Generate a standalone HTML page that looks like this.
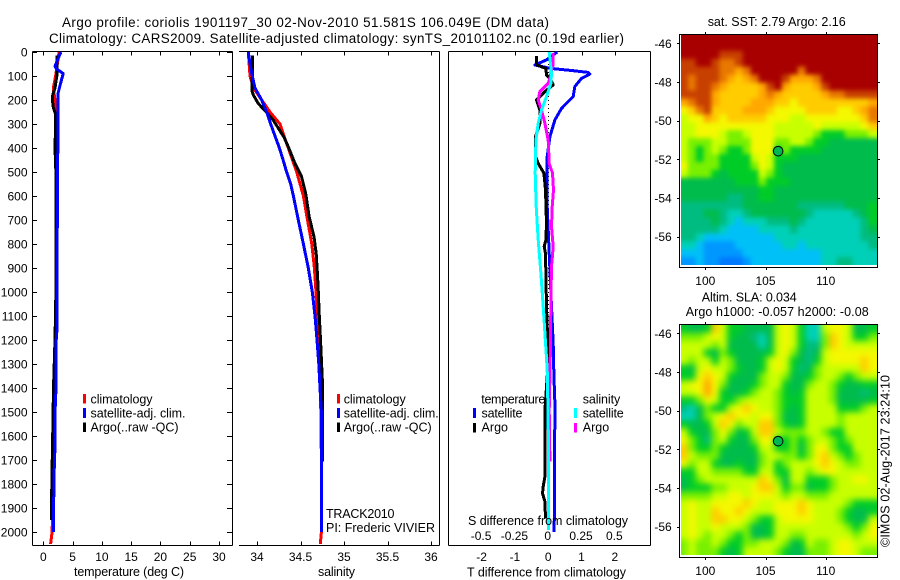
<!DOCTYPE html>
<html lang="en">
<head>
<meta charset="utf-8">
<title>Argo profile</title>
<style>
html,body{margin:0;padding:0;background:#fff;}
svg{display:block;}
text{font-family:"Liberation Sans",Arial,sans-serif;font-size:12px;fill:#000;}
text.w{font-size:12.5px;}
text.h{font-size:13.4px;}
</style>
</head>
<body>
<svg id="figure" xmlns="http://www.w3.org/2000/svg" width="900" height="580" viewBox="0 0 900 580">
<defs>
<filter id="blurSst" x="-10%" y="-10%" width="120%" height="120%" color-interpolation-filters="sRGB"><feGaussianBlur stdDeviation="2.4"/></filter>
<filter id="blurSla" x="-10%" y="-10%" width="120%" height="120%" color-interpolation-filters="sRGB"><feGaussianBlur stdDeviation="3.2"/></filter>
<clipPath id="clipSst"><rect x="681" y="35" width="196" height="230"/></clipPath>
<clipPath id="clipSla"><rect x="681" y="325" width="196" height="230"/></clipPath>
</defs>
<rect x="0" y="0" width="900" height="580" fill="#fff"/>
<g id="marks"></g>

<text class="h" x="62" y="27" textLength="487" lengthAdjust="spacing">Argo profile: coriolis 1901197_30 02-Nov-2010 51.581S 106.049E (DM data)</text>
<text class="h" x="49" y="43" textLength="575" lengthAdjust="spacing">Climatology: CARS2009. Satellite-adjusted climatology: synTS_20101102.nc (0.19d earlier)</text>

<text class="w" x="74" y="576" textLength="110" lengthAdjust="spacing">temperature (deg C)</text>
<text class="w" x="318" y="576" textLength="37" lengthAdjust="spacing">salinity</text>
<text class="w" x="467" y="576.5" textLength="159" lengthAdjust="spacing">T difference from climatology</text>
<text class="w" x="468" y="525" textLength="160" lengthAdjust="spacing">S difference from climatology</text>

<rect x="83" y="394" width="3" height="9.5" fill="#f00"/>
<rect x="83" y="408" width="3" height="10" fill="#00f"/>
<rect x="83" y="422.5" width="3" height="9.5" fill="#000"/>
<text class="w" x="90.5" y="403.3" textLength="62" lengthAdjust="spacing">climatology</text>
<text class="w" x="90.5" y="417.3" textLength="95" lengthAdjust="spacing">satellite-adj. clim.</text>
<text class="w" x="90.5" y="431.3" textLength="88" lengthAdjust="spacing">Argo(..raw -QC)</text>

<rect x="337" y="394" width="3" height="9.5" fill="#f00"/>
<rect x="337" y="408" width="3" height="10" fill="#00f"/>
<rect x="337" y="422.5" width="3" height="9.5" fill="#000"/>
<text class="w" x="343.7" y="403.3" textLength="62" lengthAdjust="spacing">climatology</text>
<text class="w" x="343.7" y="417.3" textLength="95" lengthAdjust="spacing">satellite-adj. clim.</text>
<text class="w" x="343.7" y="431.3" textLength="88" lengthAdjust="spacing">Argo(..raw -QC)</text>
<text class="w" x="326" y="518" textLength="68.5" lengthAdjust="spacing">TRACK2010</text>
<text class="w" x="326" y="532" textLength="109" lengthAdjust="spacing">PI: Frederic VIVIER</text>

<text class="w" x="481.3" y="403.3" textLength="64" lengthAdjust="spacing">temperature</text>
<text class="w" x="481.5" y="417.7" textLength="41" lengthAdjust="spacing">satellite</text>
<text class="w" x="481.5" y="431.7" textLength="26.5" lengthAdjust="spacing">Argo</text>
<text class="w" x="582.7" y="403.3" textLength="37.5" lengthAdjust="spacing">salinity</text>
<text class="w" x="582.7" y="417.7" textLength="41" lengthAdjust="spacing">satellite</text>
<text class="w" x="582.7" y="431.7" textLength="26.5" lengthAdjust="spacing">Argo</text>
<rect x="473" y="408" width="3" height="10" fill="#00f"/>
<rect x="473" y="423" width="3" height="9.5" fill="#000"/>
<rect x="574" y="408" width="3" height="10" fill="#0ff"/>
<rect x="574" y="423" width="3" height="9.5" fill="#f0f"/>

<text class="w" x="707.7" y="26" textLength="138" lengthAdjust="spacing">sat. SST: 2.79 Argo: 2.16</text>
<text class="w" x="701.7" y="301.7" textLength="95" lengthAdjust="spacing">Altim. SLA: 0.034</text>
<text class="w" x="685.7" y="316" textLength="183" lengthAdjust="spacing">Argo h1000: -0.057 h2000: -0.08</text>
<text class="w" transform="translate(889.5,547) rotate(-90)" x="0" y="0" textLength="172" lengthAdjust="spacing">©IMOS 02-Aug-2017 23:24:10</text>
</svg>

<script>
// ---- profile data (depth in dbar) ----
const depthTicks = [0,100,200,300,400,500,600,700,800,900,1000,1100,1200,1300,1400,1500,1600,1700,1800,1900,2000];
const tempTicks = [0,5,10,15,20,25,30];
const salTicks = [34,34.5,35,35.5,36];
const salTickLabels = ['34','34.5','35','35.5','36'];
const tDiffTicks = [-2,-1,0,1,2];
const sDiffTicks = [-0.5,-0.25,0,0.25,0.5];
const sDiffTickLabels = ['-0.5','-0.25','0','0.25','0.5'];

const tempClimDepth = [0,100,150,200,250,400,1000,1400,1700,1950,2000,2050];
const tempClimValue = [2.7,2.1,1.7,2.0,2.15,2.3,2.3,2.05,1.8,1.55,1.5,1.25];
const tempArgoDepth = [15,100,150,180,200,230,260,300,400,500,700,1000,1200,1400,1600,1800,1950];
const tempArgoValue = [2.3,2.3,2.0,1.6,1.55,1.7,2.1,2.1,2.0,2.15,2.15,2.15,2.0,1.75,1.6,1.45,1.4];
const tempSatDepth = [0,30,60,70,90,130,170,200,330,500,1000,1150,1200,1400,1450,1650,1700,1850,1900,2000];
const tempSatValue = [3.0,2.5,2.0,2.25,3.4,2.95,2.55,2.55,2.55,2.4,2.35,2.35,2.2,2.2,2.05,2.0,1.9,1.8,1.7,1.7];

const salClimDepth = [0,100,150,200,250,300,350,400,500,600,700,800,900,1000,1100,1200,1400,1700,2000,2050];
const salClimValue = [33.9,33.92,33.96,34.054,34.15,34.264,34.31,34.36,34.456,34.533,34.58,34.63,34.66,34.678,34.69,34.713,34.73,34.74,34.74,34.728];
const salArgoDepth = [15,100,160,180,215,243,285,355,395,465,520,590,687,770,840,937,1000,1100,1200,1300,1400,1500,1707];
const salArgoValue = [33.946,33.946,33.94,33.96,34.015,34.09,34.188,34.31,34.36,34.437,34.513,34.56,34.6,34.655,34.68,34.697,34.705,34.716,34.73,34.743,34.755,34.755,34.755];
const salSatDepth = [0,50,100,150,200,250,300,350,400,450,500,550,600,700,800,900,1000,1100,1200,1300,1400,1500,1700,2000];
const salSatValue = [33.9,33.92,33.946,33.977,34.054,34.11,34.157,34.207,34.257,34.3,34.34,34.387,34.418,34.475,34.533,34.59,34.636,34.667,34.69,34.71,34.724,34.74,34.74,34.74];

const diffTSatDepth = [0,33,54,68,78,85,92,110,144,186,235,283,353,436,644,1061,1214,1350,1464,2000];
const diffTSatValue = [0.27,-0.05,-0.4,0.05,0.75,1.2,1.25,1.0,0.8,0.75,0.4,0.2,0.05,-0.03,-0.03,0.1,0.15,0.17,0.2,0.18];
const diffTArgoDepth = [16,54,68,96,110,137,165,200,242,297,353,436,464,505,575,714,783,811,840,1061,1255,1353,1492,1631,1769,1811,1839,1873,1943];
const diffTArgoValue = [-0.35,-0.35,-0.07,-0.05,0.05,0.15,-0.1,-0.35,-0.25,-0.25,-0.38,-0.38,-0.3,-0.13,-0.08,-0.05,-0.07,-0.12,-0.08,-0.05,0,-0.03,-0.1,-0.1,-0.1,-0.15,-0.17,-0.1,-0.08];
const diffSArgoDepth = [5,54,75,110,130,165,200,242,297,367,464,505,575,644,728,811,894,1033,1214,1353,1492,1707];
const diffSArgoValue = [0.0375,0.0375,0.025,0.0125,0,-0.0625,-0.075,-0.05,-0.025,0,0.0075,0.0325,0.04,0.03,0.025,0.0375,0.025,0.02,0.0175,0.0125,0.0075,0.0125];
const diffSSatDepth = [0,89,130,186,242,297,367,505,644,783,922,1061,1172,1255,1353,1492,1631,1992];
const diffSSatValue = [0.0075,0.025,0.02,-0.0125,-0.05,-0.075,-0.0925,-0.0975,-0.09,-0.075,-0.055,-0.0375,-0.025,-0.015,-0.005,-0.0025,0.0025,0.0025];

// ---- map data: colour level per grid cell (north to south, west to east) ----
const mapLonTicks = [100,105,110];
const mapLatTicks = [-46,-48,-50,-52,-54,-56];
const sstLevels = [
[14,14,14,14,14,14,14,14,14,14,14,14,14,14,14,14,14,14,14,14,14,14,14,14,14],
[14,14,14,14,14,14,14,14,14,14,14,14,14,14,14,14,14,14,14,14,14,14,14,14,14],
[14,14,14,14,14,13,13,13,14,14,14,14,14,14,14,14,14,14,14,14,14,14,14,14,14],
[13,13,14,14,13,12,12,13,14,14,14,14,14,14,14,14,14,14,14,14,14,14,14,14,14],
[13,13,13,13,13,12,12,11,12,14,14,14,14,14,14,12,14,14,14,14,14,14,14,14,14],
[13,12,13,13,13,12,11,10,11,12,14,14,14,13,11,11,11,12,14,14,14,14,14,14,14],
[13,12,13,13,12,11,10,10,10,10,11,13,14,11,10,10,10,11,13,14,14,14,14,14,14],
[13,13,13,13,11,10,10,10,10,10,11,12,11,10,10,10,10,10,11,12,12,13,13,13,13],
[11,12,13,13,11,10,10,10,10,11,11,11,10,10,9,10,10,10,10,10,10,10,10,10,11],
[9,10,12,13,10,10,10,10,11,11,11,10,9,9,9,9,10,10,10,10,9,9,10,11,12],
[8,9,9,11,10,9,10,10,10,10,10,9,9,9,8,8,9,9,9,9,9,9,9,10,12],
[8,8,9,9,9,9,9,9,9,9,9,9,8,8,8,8,8,9,8,8,8,8,8,9,10],
[8,8,9,9,9,8,7,7,8,9,9,9,8,8,8,8,8,7,6,6,6,7,7,7,8],
[8,7,7,7,8,8,7,7,7,9,9,9,7,7,8,8,7,6,6,5,5,5,5,5,5],
[8,7,6,7,8,7,6,6,7,9,9,9,6,7,6,6,6,6,5,5,5,5,5,5,5],
[8,7,6,7,7,6,6,6,6,8,9,8,6,6,6,5,5,5,5,5,5,5,5,5,5],
[9,7,7,7,7,6,6,6,6,7,9,8,6,5,5,5,5,5,5,5,5,5,5,5,5],
[8,7,7,7,6,5,6,6,6,6,8,7,6,5,5,5,5,5,5,5,5,5,5,5,5],
[5,5,5,5,5,5,5,6,6,6,7,6,6,6,5,5,5,5,5,5,5,5,5,5,5],
[5,5,5,5,5,5,5,5,5,5,6,6,5,5,5,5,5,5,5,5,5,5,5,5,5],
[5,5,5,5,5,5,4,4,5,5,6,6,5,5,5,5,5,5,5,5,5,5,5,5,5],
[4,4,4,4,4,4,4,4,5,5,5,5,5,5,5,4,4,4,4,4,4,5,5,5,6],
[4,4,4,5,5,4,3,3,4,5,5,5,5,5,5,5,4,3,3,3,3,3,4,5,6],
[4,4,4,4,5,4,3,2,3,3,3,4,4,4,5,4,3,3,3,3,3,3,3,4,6],
[4,4,4,4,4,3,2,2,2,2,3,3,3,3,4,3,3,3,3,3,3,3,3,4,5],
[4,4,3,2,2,2,2,2,2,2,2,2,3,3,3,3,3,3,3,3,3,3,3,4,4],
[3,3,2,1,1,1,1,2,2,2,2,2,2,3,3,2,3,3,3,3,3,3,3,3,4],
[2,2,2,1,1,1,1,1,2,2,2,2,2,2,2,2,2,2,3,3,3,3,3,3,3],
[1,1,2,1,1,0,0,0,1,2,2,2,2,2,2,2,2,2,3,3,4,4,3,3,3]
];
const slaLevels = [
[6,5,5,6,10,8,6,6,5,5,5,5,8,9,8,6,3,3,8,9,9,8,5,5,6],
[7,7,7,8,9,8,6,5,5,4,3,5,8,9,8,6,3,3,7,10,9,8,6,6,7],
[8,8,8,8,7,8,5,5,5,5,3,5,8,9,8,6,4,4,7,10,9,8,8,8,8],
[8,8,8,6,5,7,6,5,5,5,5,6,8,9,7,5,4,5,8,9,9,9,9,9,9],
[8,7,8,8,6,8,7,5,5,5,6,8,9,8,6,5,4,6,8,9,9,9,9,10,9],
[6,5,8,9,8,8,7,6,5,5,6,8,9,8,6,4,5,7,8,8,8,8,8,10,9],
[6,6,9,10,9,8,6,5,5,5,7,8,8,7,5,5,6,7,8,8,7,6,7,8,8],
[8,9,9,11,9,7,5,5,5,6,7,8,8,6,5,5,7,8,8,7,6,5,5,6,6],
[8,8,9,11,9,6,5,5,6,7,8,8,7,6,5,6,8,8,8,7,5,5,5,4,5],
[6,6,7,9,8,6,6,7,8,8,8,8,7,6,6,6,8,8,8,7,5,5,5,5,6],
[4,3,5,7,6,6,8,9,10,9,8,8,7,6,5,6,8,8,8,8,6,6,6,7,8],
[3,3,5,7,8,9,10,9,9,8,9,9,7,5,5,6,8,8,8,8,7,8,8,8,8],
[6,5,5,6,8,10,9,7,8,8,10,10,7,6,5,6,8,8,8,8,7,8,8,8,8],
[8,6,5,5,7,9,7,5,6,8,10,10,8,7,7,7,8,8,7,6,6,8,8,8,8],
[9,7,6,4,7,8,6,5,5,7,9,9,6,6,7,6,7,8,8,7,6,7,8,8,8],
[10,7,6,6,7,6,5,5,5,6,8,8,6,6,7,5,7,9,9,7,6,6,8,8,8],
[10,8,7,7,7,5,5,5,5,5,7,8,8,7,7,6,7,9,10,8,7,6,7,8,8],
[9,7,8,8,6,5,5,6,5,5,7,8,6,7,8,8,8,9,10,9,8,7,7,8,8],
[6,6,8,8,7,7,7,7,6,6,8,8,6,6,8,8,7,8,9,9,8,8,8,8,8],
[5,6,7,8,8,8,8,8,8,8,10,9,7,5,8,8,6,6,6,7,8,8,9,9,8],
[5,6,6,6,7,7,8,8,8,9,10,10,8,6,7,7,5,6,6,7,8,8,8,8,8],
[7,7,7,7,8,8,9,9,8,9,9,9,8,7,8,8,7,7,7,8,8,8,8,8,8],
[8,9,8,8,9,9,9,9,10,9,8,8,9,9,9,10,9,8,8,8,8,7,6,6,6],
[8,9,8,8,10,9,9,10,9,8,8,8,9,9,9,10,9,8,8,8,7,6,5,5,6],
[8,9,8,8,10,10,9,9,8,7,6,6,8,9,9,9,9,8,8,8,7,6,5,5,8],
[8,9,8,8,9,8,8,8,7,5,5,6,8,8,8,8,8,8,8,8,8,7,6,7,9],
[8,9,8,7,8,8,7,6,7,5,5,6,8,8,7,7,8,8,8,8,8,8,7,8,9],
[7,8,7,7,8,7,6,6,7,7,8,8,8,7,5,6,8,7,7,8,9,9,8,8,8],
[7,8,7,7,7,6,5,6,8,8,8,8,7,6,5,5,7,7,7,8,9,9,8,7,7]
];
const levelColors = ['#0078ff','#0098ff','#00c0f8','#00d0b8','#00bc80','#00bc4c','#00cc28','#78f000','#c8ff00','#f4f800','#ffcc00','#ffa800','#e87800','#c84000','#a80000'];
const argoLon = 106.049;
const argoLat = -51.581;

// ---- axis functions ----
const yDepth = d => 52 + d * 0.24;
const xTemp = t => 43.3 + t * 5.857;
const xSal = s => 257 + (s - 34) * 87;
const xTDiff = v => 548.2 + v * 33.3;
const xSDiff = v => 548.2 + v * 133.2;
const xLon = lon => 705.3 + (lon - 100) * 12.04;
const yLat = (lat, top) => top + 9.3 + (-46 - lat) * 19.33;

const NS = 'http://www.w3.org/2000/svg';
const marks = document.getElementById('marks');
function make(tag, parent) {
  const el = document.createElementNS(NS, tag);
  (parent || marks).appendChild(el);
  return el;
}
function hline(x1, y1, x2, y2, parent, width) {
  const el = make('line', parent);
  el.setAttribute('x1', x1);
  el.setAttribute('y1', y1);
  el.setAttribute('x2', x2);
  el.setAttribute('y2', y2);
  el.setAttribute('stroke', '#000');
  el.setAttribute('stroke-width', width || 1);
  el.setAttribute('shape-rendering', 'crispEdges');
  return el;
}
function label(str, x, y, anchor) {
  const el = make('text');
  el.textContent = str;
  el.setAttribute('x', x);
  el.setAttribute('y', y);
  el.setAttribute('text-anchor', anchor);
  return el;
}
function profile(depths, values, xFn, colour, name) {
  const el = make('polyline');
  el.setAttribute('points', depths.map((d, i) => xFn(values[i]).toFixed(1) + ',' + yDepth(d).toFixed(1)).join(' '));
  el.setAttribute('fill', 'none');
  el.setAttribute('stroke', colour);
  el.setAttribute('stroke-width', '3');
  el.setAttribute('stroke-linejoin', 'round');
  el.setAttribute('shape-rendering', 'crispEdges');
  
  
}
function heatmap(levels, clipId, filterId, top, name) {
  const clipGroup = make('g');
  clipGroup.setAttribute('clip-path', 'url(#' + clipId + ')');
  
  
  const group = make('g', clipGroup);
  group.setAttribute('filter', 'url(#' + filterId + ')');
  const rows = levels.length, cols = levels[0].length;
  const x0 = xLon(97.9), x1 = xLon(114.18), y0 = top + 1, y1 = top + 231;
  const cw = (x1 - x0) / cols, ch = (y1 - y0) / rows;
  levels.forEach((row, r) => {
    row.forEach((level, c) => {
      const cell = make('rect', group);
      const pad = 14;
      const left = x0 + c * cw - (c === 0 ? pad : 0);
      const right = x0 + (c + 1) * cw + (c === cols - 1 ? pad : 0);
      const upper = y0 + r * ch - (r === 0 ? pad : 0);
      const lower = y0 + (r + 1) * ch + (r === rows - 1 ? pad : 0);
      cell.setAttribute('x', left.toFixed(2));
      cell.setAttribute('y', upper.toFixed(2));
      cell.setAttribute('width', (right - left + 0.4).toFixed(2));
      cell.setAttribute('height', (lower - upper + 0.4).toFixed(2));
      cell.setAttribute('fill', levelColors[level]);
      
      
    });
  });
}
function mapFrame(top, bottom, name) {
  const frame = make('rect');
  frame.setAttribute('x', 679.5);
  frame.setAttribute('y', top + 0.5);
  frame.setAttribute('width', 198);
  frame.setAttribute('height', bottom - top);
  frame.setAttribute('fill', 'none');
  frame.setAttribute('stroke', '#000');
  frame.setAttribute('shape-rendering', 'crispEdges');
  
  
  mapLonTicks.forEach(lon => {
    const x = Math.round(xLon(lon)) + 0.5;
    hline(x, top - 2, x, top, null);
    hline(x, bottom + 1, x, bottom + 3, null);
    const t = label(String(lon), xLon(lon), bottom + 18, 'middle');
    
    
  });
  mapLatTicks.forEach(lat => {
    const y = Math.round(yLat(lat, top)) + 0.5;
    hline(677, y, 679.5, y, null);
    hline(878, y, 880, y, null);
    const t = label(String(lat), 671.7, yLat(lat, top) + 4.5, 'end');
    
    
  });
}
function argoMarker(top, name) {
  const c = make('circle');
  c.setAttribute('cx', xLon(argoLon));
  c.setAttribute('cy', yLat(argoLat, top));
  c.setAttribute('r', 4.8);
  c.setAttribute('fill', '#00b850');
  c.setAttribute('stroke', '#000');
  
  
}

// ---- heatmaps ----
heatmap(sstLevels, 'clipSst', 'blurSst', 34, 'sst-heatmap');
heatmap(slaLevels, 'clipSla', 'blurSla', 324, 'sla-heatmap');
mapFrame(34, 267, 'sst-map-frame');
mapFrame(324, 557, 'sla-map-frame');
argoMarker(34, 'sst-argo-position-marker');
argoMarker(324, 'sla-argo-position-marker');

// ---- profile panel frames ----
const TOP = 51.5, BOT = 545.5;
hline(32.5, TOP, 232.5, TOP);
hline(32.5, BOT, 232.5, BOT);
hline(32.5, TOP, 32.5, BOT);
hline(232.5, TOP, 232.5, BOT);
hline(239, TOP, 439.5, TOP);
hline(239, BOT, 439.5, BOT);
hline(439.5, TOP, 439.5, BOT);
hline(448.5, TOP, 650.5, TOP);
hline(448.5, BOT, 650.5, BOT);
hline(448.5, TOP, 448.5, BOT);
hline(650.5, TOP, 650.5, BOT);

depthTicks.forEach(d => {
  const y = Math.round(yDepth(d)) + 0.5;
  hline(32.5, y, 37, y);
  hline(227, y, 232.5, y);
  const t = label(String(d), 27.5, yDepth(d) + 4.5, 'end');
  
  
});
tempTicks.forEach(v => {
  const x = Math.round(xTemp(v)) + 0.5;
  hline(x, TOP, x, TOP + 4);
  hline(x, BOT - 4, x, BOT);
  const t = label(String(v), xTemp(v), 561, 'middle');
  
  
});
salTicks.forEach((v, i) => {
  const x = Math.round(xSal(v)) + 0.5;
  hline(x, TOP, x, TOP + 4);
  hline(x, BOT - 4, x, BOT);
  const t = label(salTickLabels[i], xSal(v), 561, 'middle');
  
  
});
tDiffTicks.forEach(v => {
  const x = Math.round(xTDiff(v)) + 0.5;
  hline(x, TOP, x, TOP + 4);
  const t = label(String(v), xTDiff(v), 561, 'middle');
  
  
});
sDiffTicks.forEach((v, i) => {
  const t = label(sDiffTickLabels[i], xSDiff(v) - 0.5, 540, 'middle');
  
  
});

// ---- zero line in difference panel ----
const zeroLine = hline(Math.round(xTDiff(0)) + 0.5, yDepth(0), Math.round(xTDiff(0)) + 0.5, yDepth(2000));
zeroLine.setAttribute('stroke-dasharray', '1 3');



// ---- profiles ----
profile(tempClimDepth, tempClimValue, xTemp, '#f00', 'temperature-climatology-line');
profile(tempArgoDepth, tempArgoValue, xTemp, '#000', 'temperature-argo-line');
profile(tempSatDepth, tempSatValue, xTemp, '#00f', 'temperature-satellite-line');
profile(salClimDepth, salClimValue, xSal, '#f00', 'salinity-climatology-line');
profile(salArgoDepth, salArgoValue, xSal, '#000', 'salinity-argo-line');
profile(salSatDepth, salSatValue, xSal, '#00f', 'salinity-satellite-line');
profile(diffTSatDepth, diffTSatValue, xTDiff, '#00f', 'diff-temp-satellite-line');
profile(diffTArgoDepth, diffTArgoValue, xTDiff, '#000', 'diff-temp-argo-line');
profile(diffSArgoDepth, diffSArgoValue, xSDiff, '#f0f', 'diff-sal-argo-line');
profile(diffSSatDepth, diffSSatValue, xSDiff, '#0ff', 'diff-sal-satellite-line');
</script>
</body>
</html>
